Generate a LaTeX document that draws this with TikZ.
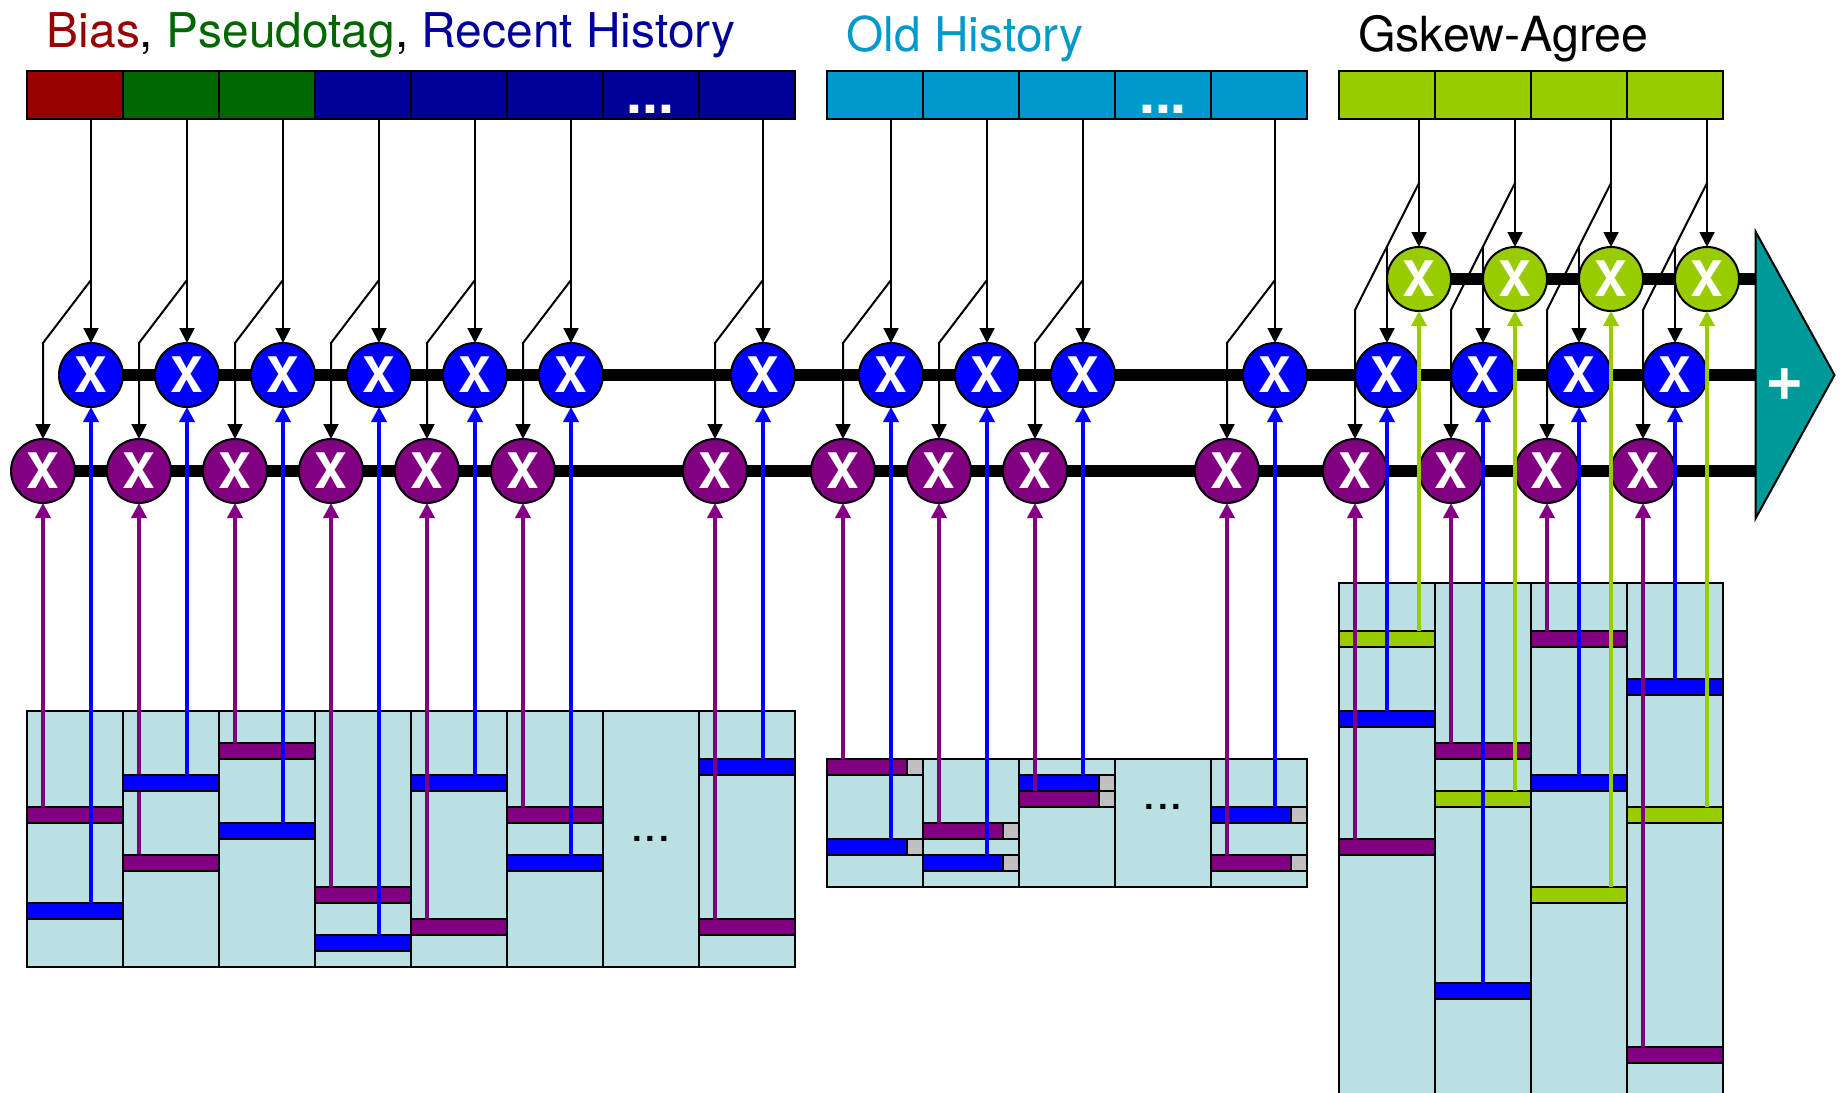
\documentclass[tikz,border=0pt]{standalone}
\usepackage{fontspec}
\setmainfont{TeX Gyre Heros}
\usetikzlibrary{arrows.meta,calc}
\definecolor{cBias}{HTML}{990000}
\definecolor{cTag}{HTML}{006600}
\definecolor{cRecent}{HTML}{000099}
\definecolor{cOld}{HTML}{0099CC}
\definecolor{cLime}{HTML}{99CC00}
\definecolor{cPurple}{HTML}{800080}
\definecolor{cBlue}{HTML}{0000FF}
\definecolor{cTeal}{HTML}{009999}
\definecolor{cPale}{HTML}{BBE0E3}
\definecolor{cGrey}{HTML}{C0C0C0}
\pgfdeclarelayer{cols}
\pgfdeclarelayer{under}
\pgfsetlayers{cols,under,main}
\newcommand{\fs}[1]{\fontsize{#1}{#1}\selectfont}
\tikzset{
  x=1pt,y=-1pt,
  cell/.style={draw=black,line width=2pt,minimum width=96pt,minimum height=48pt,inner sep=0pt,outer sep=0pt,anchor=north west},
  col/.style={draw=black,line width=2pt,fill=cPale,minimum width=96pt,inner sep=0pt,outer sep=0pt,anchor=north west},
  entry/.style={draw=black,line width=2pt,minimum width=96pt,minimum height=16pt,inner sep=0pt,outer sep=0pt,anchor=north west},
  shortentry/.style={entry,minimum width=80pt},
  tagbit/.style={entry,fill=cGrey,minimum width=16pt},
  xnode/.style={circle,draw=black,line width=2pt,minimum size=64pt,inner sep=0pt,outer sep=0pt,text=white,font=\bfseries\fs{49}},
  thin arrow/.style={draw=black,line width=2pt,-{Triangle[length=15pt,width=15pt]}},
  feed/.style={line width=4pt,-{Triangle[length=15pt,width=15pt]}},
  bar/.style={draw=black,line width=12pt},
  title/.style={anchor=base west,inner sep=0pt,outer sep=0pt,font=\fs{47.9}},
  dotsw/.style={anchor=base,inner sep=0pt,text=white,font=\bfseries\fs{57}},
  dotsb/.style={anchor=base,inner sep=0pt,text=black,font=\fs{49}},
}
\begin{document}
\begin{tikzpicture}
\useasboundingbox (0,0) rectangle (1841,1092);
% titles
\node[title] (t1) at (46.8,47) {{\color{cBias}Bias}, {\color{cTag}Pseudotag}, {\color{cRecent}Recent History}};
\node[title,text=cOld] (t2) at (846.5,51) {Old History};
\node[title,text=black,font=\fs{48.4}] (t3) at (1358,51) {Gskew-Agree};
% header cells
\foreach \i/\x/\c in {1/27/cBias,2/123/cTag,3/219/cTag,4/315/cRecent,5/411/cRecent,6/507/cRecent,7/603/cRecent,8/699/cRecent,
  9/827/cOld,10/923/cOld,11/1019/cOld,12/1115/cOld,13/1211/cOld,
  14/1339/cLime,15/1435/cLime,16/1531/cLime,17/1627/cLime}
  \node[cell,fill=\c] (H\i) at (\x,71) {};
\node[dotsw] (dh1) at (650.5,113) {...};
\node[dotsw] (dh2) at (1163,113) {...};
% table columns
\begin{pgfonlayer}{cols}
\foreach \i/\x in {1/27,2/123,3/219,4/315,5/411,6/507,7/603,8/699}
  \node[col,minimum height=256pt] (A\i) at (\x,711) {};
\foreach \i/\x in {1/827,2/923,3/1019,4/1115,5/1211}
  \node[col,minimum height=128pt] (B\i) at (\x,759) {};
\foreach \i/\x in {1/1339,2/1435,3/1531,4/1627}
  \node[col,minimum height=520pt] (C\i) at (\x,583) {};
\end{pgfonlayer}
\node[dotsb] (da) at (650.6,841) {...};
\node[dotsb] (db) at (1163,809) {...};
% table entries: circle index / column x / purple row / blue row
\foreach \i/\x/\kp/\kb in {1/27/6/12,2/123/9/4,3/219/2/7,4/315/11/14,5/411/13/4,6/507/6/9,7/699/13/3}{
  \node[entry,fill=cPurple] (EP\i) at (\x,{711+16*\kp}) {};
  \node[entry,fill=cBlue] (EB\i) at (\x,{711+16*\kb}) {};
}
\foreach \i/\x/\kp/\kb in {8/827/0/5,9/923/4/6,10/1019/2/1,11/1211/6/3}{
  \node[shortentry,fill=cPurple] (EP\i) at (\x,{759+16*\kp}) {};
  \node[tagbit] (TP\i) at ({\x+80},{759+16*\kp}) {};
  \node[shortentry,fill=cBlue] (EB\i) at (\x,{759+16*\kb}) {};
  \node[tagbit] (TB\i) at ({\x+80},{759+16*\kb}) {};
}
\foreach \i/\x/\kp/\kb/\kg in {12/1339/16/8/3,13/1435/10/25/13,14/1531/3/12/19,15/1627/29/6/14}{
  \node[entry,fill=cPurple] (EP\i) at (\x,{583+16*\kp}) {};
  \node[entry,fill=cBlue] (EB\i) at (\x,{583+16*\kb}) {};
  \node[entry,fill=cLime] (EG\i) at (\x,{583+16*\kg}) {};
}
% multipliers: index / purple x / blue x
\foreach \i/\x/\y in {1/43/91,2/139/187,3/235/283,4/331/379,5/427/475,6/523/571,7/715/763,8/843/891,9/939/987,10/1035/1083,11/1227/1275,12/1355/1387,13/1451/1483,14/1547/1579,15/1643/1675}{
  \node[xnode,fill=cPurple] (p\i) at (\x,471) {X};
  \node[xnode,fill=cBlue] (b\i) at (\y,375) {X};
}
\foreach \i/\x in {12/1419,13/1515,14/1611,15/1707}
  \node[xnode,fill=cLime] (g\i) at (\x,279) {X};
% final adder
\coordinate (sumTop) at (1755.5,231.5);
\coordinate (sumTip) at (1834.5,375);
\coordinate (sumBot) at (1755.5,518.5);
\draw[line width=2pt,fill=cTeal,line join=miter] (sumTop) -- (sumTip) -- (sumBot) -- cycle;
\node[inner sep=0pt,text=white,font=\bfseries\fs{66}] (plus) at (1785,385) {+};
% summing buses
\begin{pgfonlayer}{under}
\draw[bar] (p1.center) -- (p1 -| sumBot);
\draw[bar] (b1.center) -- (b1 -| sumBot);
\draw[bar] (g12.center) -- (g12 -| sumBot);
\draw[feed,cPurple] (EP2.north -| p2) -- (p2.south);
\end{pgfonlayer}
% black connectors of non-gskew tables
\foreach \i/\h in {1/1,2/2,3/3,4/4,5/5,6/6,7/8,8/9,9/10,10/11,11/13}{
  \draw[thin arrow] (H\h.south -| b\i) -- (b\i.north);
  \coordinate (fork\i) at ($(b\i.north)+(0,-63)$);
  \coordinate (kink\i) at (p\i |- b\i.north);
  \draw[thin arrow] (fork\i) -- (kink\i) -- (p\i.north);
}
% black connectors of gskew table
\foreach \i/\h in {12/14,13/15,14/16,15/17}{
  \draw[thin arrow] (H\h.south -| g\i) -- (g\i.north);
  \coordinate (fork\i) at ($(g\i.north)+(0,-64)$);
  \coordinate (kink\i) at ($(p\i.north)+(0,-129)$);
  \coordinate (mid\i) at ($(fork\i)!0.5!(kink\i)$);
  \draw[thin arrow] (fork\i) -- (kink\i) -- (p\i.north);
  \draw[thin arrow] (mid\i) -- (b\i.north);
}
% coloured connectors
\foreach \i in {1,3,4,5,6,7,8,9,10,11,12,13,14,15}
  \draw[feed,cPurple] (EP\i.north -| p\i) -- (p\i.south);
\foreach \i in {1,...,15}
  \draw[feed,cBlue] (EB\i.north -| b\i) -- (b\i.south);
\foreach \i in {12,...,15}
  \draw[feed,cLime] (EG\i.north -| g\i) -- (g\i.south);
\end{tikzpicture}
\end{document}
